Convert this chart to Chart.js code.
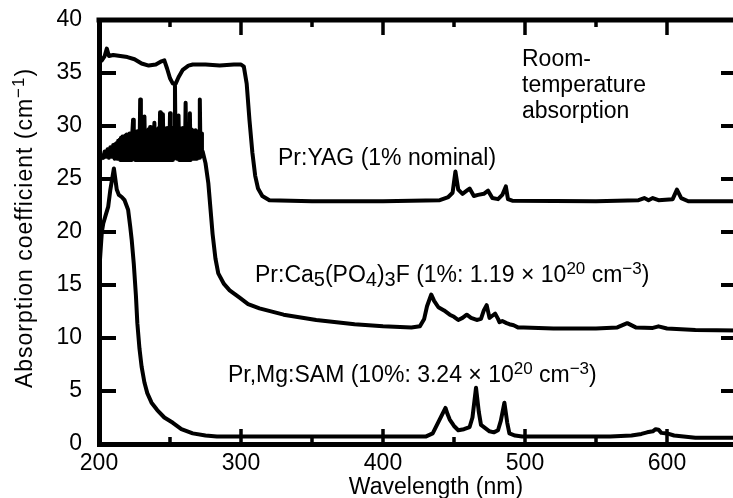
<!DOCTYPE html>
<html>
<head>
<meta charset="utf-8">
<script src="https://cdn.jsdelivr.net/npm/chart.js@4.4.1/dist/chart.umd.min.js"></script>
<style>
html, body { margin: 0; padding: 0; overflow: hidden; background: #fff; }
canvas { display: block; }
</style>
</head>
<body>
<canvas id="myChart" width="745" height="498"></canvas>
<script>
// Pr:YAG (1% nominal)
const yagNm = [200, 202, 204, 205.5, 207, 210, 215, 220, 225, 230, 235, 240, 244, 246, 248, 250, 252, 254, 256, 259,
  263, 266, 275, 285, 295, 300, 302, 304, 306, 308, 310, 312, 315, 320, 350, 400, 440, 446, 449, 451,
  453, 456, 459, 461, 464, 467, 471, 474, 477, 481, 484, 486.5, 488, 491, 550, 580, 584, 587, 590, 594,
  604, 607, 610, 615, 650];
const yagAbs = [36.0, 36.2, 36.6, 37.3, 36.6, 36.7, 36.6, 36.5, 36.3, 35.9, 35.7, 35.8, 36.1, 36.2, 35.4, 34.5, 34.0, 34.0, 34.6, 35.3,
  35.7, 35.8, 35.8, 35.7, 35.8, 35.8, 35.6, 34.0, 30.5, 27.5, 25.3, 24.1, 23.4, 23.0, 22.9, 22.9, 23.0, 23.3, 23.7, 25.7,
  24.0, 23.6, 23.9, 24.1, 23.4, 23.5, 23.6, 23.9, 23.2, 23.1, 23.5, 24.3, 23.1, 22.95, 22.9, 23.0, 23.2, 23.0, 23.2, 23.0,
  23.1, 24.0, 23.2, 22.9, 22.9];

// Pr:Ca5(PO4)3F
const capfNm = [200, 201, 202, 203, 204, 205, 206, 207, 208, 209, 210,
  211, 211.5, 212, 212.5, 213, 213.5, 214, 214.5, 215, 215.5,
  216, 216.5, 217, 217.5, 218, 218.5, 219, 219.5, 220, 220.5,
  221, 221.5, 222, 222.5, 223, 223.5, 224, 224.5, 225, 225.5,
  226, 226.5, 227, 227.5, 228, 228.5, 229, 229.5, 230, 230.5,
  231, 231.5, 232, 232.5, 233, 233.5, 234, 234.5, 235, 235.5,
  236, 236.5, 237, 237.5, 238, 238.5, 239, 239.5, 240, 240.5,
  241, 241.5, 242, 242.5, 243, 243.5, 244, 244.5, 245, 245.5,
  246, 246.5, 247, 247.5, 248, 248.5, 249, 249.5, 250, 250.5,
  251, 251.5, 252, 252.5, 253, 253.5, 254, 254.5, 255, 255.5,
  256, 256.5, 257, 257.5, 258, 258.5, 259, 259.5, 260, 260.5,
  261, 261.5, 262, 262.5, 263, 263.5, 264, 264.5, 265, 265.5,
  266, 266.5, 267, 267.5, 268, 268.5, 269, 269.5, 270, 270.5,
  271, 271.5, 272, 272.5, 273,
  275, 277, 280, 282, 284, 288, 292, 299, 305, 313, 330, 353, 380, 400, 420, 426, 429, 431, 434, 436,
  439, 443, 447, 450, 453, 456, 459, 462, 466, 469, 471, 473, 475, 477, 479, 481, 482, 484, 487, 489,
  492, 495, 499, 520, 550, 565, 572, 578, 590, 594, 600, 620, 650];
const capfAbs = [26.4, 26.9, 27.2, 27.0, 27.6, 27.1, 27.8, 27.0, 28.0, 27.1, 28.2,
  26.9, 28.3, 27.0, 28.4, 26.9, 28.6, 27.0, 28.7, 26.8, 28.9,
  26.9, 29.0, 26.8, 28.9, 26.9, 29.1, 26.8, 29.2, 26.9, 29.0,
  26.8, 29.3, 26.9, 29.2, 26.8, 29.4, 30.6, 26.9, 29.3, 26.8,
  29.4, 26.9, 29.5, 26.8, 29.4, 26.9, 32.5, 26.8, 29.5, 26.9,
  29.6, 26.8, 30.9, 26.9, 29.5, 26.8, 29.6, 26.9, 29.7, 26.8,
  29.9, 26.9, 29.6, 26.8, 29.7, 26.9, 30.3, 26.8, 29.7, 26.9,
  29.6, 26.8, 29.8, 26.9, 31.3, 26.8, 29.7, 26.9, 31.1, 26.8,
  29.8, 26.9, 29.7, 26.8, 29.8, 26.9, 29.6, 26.8, 31.2, 26.9,
  29.7, 26.8, 29.8, 26.9, 29.7, 33.8, 27.0, 29.8, 26.9, 29.7,
  31.0, 26.8, 29.8, 26.9, 29.7, 26.8, 29.8, 26.9, 29.6, 26.8,
  32.2, 26.9, 29.7, 26.8, 29.6, 26.9, 31.2, 26.8, 29.7, 27.0,
  29.6, 26.9, 29.5, 27.0, 29.6, 26.9, 29.5, 27.0, 29.5, 27.0,
  32.5, 27.1, 29.3, 27.3, 27.6,
  26.5, 24.6, 19.8, 17.5, 16.1, 15.1, 14.5, 13.8, 13.2, 12.8, 12.2, 11.7, 11.3, 11.1, 11.0, 11.1, 11.8, 13.0, 14.1, 13.5,
  12.9, 12.6, 12.2, 12.0, 11.7, 11.9, 12.2, 11.9, 11.7, 11.8, 12.6, 13.1, 11.9, 12.1, 12.3, 11.8, 11.5, 11.6, 11.4, 11.3,
  11.2, 11.0, 11.0, 10.9, 10.9, 11.0, 11.4, 11.0, 10.95, 11.1, 10.9, 10.75, 10.7];

// Pr,Mg:SAM (10%)
const samNm = [200, 201, 202, 203, 204.5, 206.5, 208, 210.5, 212.5, 214, 216, 218, 220.5, 222, 223, 224.5, 226, 227, 228.5, 230,
  232, 234, 237, 241, 246, 252, 258, 266, 275, 283, 350, 430, 435, 438, 441, 444, 445.5, 447, 450, 453,
  457, 461, 463, 465.5, 467.5, 469, 472, 475, 478, 481, 483, 485.5, 487.5, 489, 493, 498, 560, 575, 582, 586,
  590, 592, 594, 596, 600, 605, 620, 650];
const samAbs = [16.0, 18.0, 20.0, 20.8, 21.5, 22.4, 24.0, 26.0, 24.0, 23.5, 23.3, 23.0, 22.1, 20.5, 19.3, 17.0, 14.0, 11.4, 9.0, 7.3,
  5.8, 4.8, 3.9, 3.2, 2.5, 2.0, 1.4, 1.0, 0.8, 0.7, 0.7, 0.7, 1.0, 1.8, 2.6, 3.4, 2.8, 2.3, 1.7, 1.3,
  1.4, 1.6, 2.5, 5.3, 3.0, 1.8, 1.5, 1.2, 1.1, 1.3, 2.2, 3.9, 2.0, 1.0, 0.8, 0.7, 0.7, 0.8, 0.95, 1.1,
  1.2, 1.4, 1.35, 1.05, 1.0, 0.8, 0.6, 0.6];

// text labels: [text, 0 normal / -1 subscript / 1 superscript]
const yagLabel = [['Pr:YAG (1% nominal)', 0]];
const capfLabel = [['Pr:Ca', 0], ['5', -1], ['(PO', 0], ['4', -1], [')', 0], ['3', -1], ['F (1%: 1.19 \u00d7 10', 0], ['20', 1], [' cm', 0], ['\u22123', 1], [')', 0]];
const samLabel = [['Pr,Mg:SAM (10%: 3.24 \u00d7 10', 0], ['20', 1], [' cm', 0], ['\u22123', 1], [')', 0]];
const roomLines = ['Room-', 'temperature', 'absorption'];
const xTitle = [['Wavelength (nm)', 0]];
const yTitle = [['Absorption coefficient (cm', 0], ['\u22121', 1], [')', 0]];

const FONT = "'Liberation Sans', Arial, Helvetica, sans-serif";
Chart.defaults.font.family = FONT;
Chart.defaults.color = '#000';

function runFont(kind) {
  if (kind < 0) return '20px ' + FONT;
  if (kind > 0) return '17px ' + FONT;
  return '23px ' + FONT;
}
function runsWidth(ctx, runs) {
  let w = 0;
  runs.forEach(r => { ctx.font = runFont(r[1]); w += ctx.measureText(r[0]).width; });
  return w;
}
function drawRuns(ctx, runs, x, y) {
  runs.forEach(r => {
    ctx.font = runFont(r[1]);
    const dy = r[1] < 0 ? 4 : (r[1] > 0 ? -8 : 0);
    ctx.fillText(r[0], x, y + dy);
    x += ctx.measureText(r[0]).width;
  });
}

// inward ticks, top/right frame and the labels
const inkPlugin = {
  id: 'ink',
  afterDraw(chart) {
    const { ctx, chartArea: a, scales: { x, y } } = chart;
    ctx.save();
    ctx.strokeStyle = '#000';
    ctx.lineWidth = 5;
    ctx.beginPath();
    ctx.moveTo(a.left - 2.5, a.top);
    ctx.lineTo(a.right, a.top);
    ctx.lineTo(a.right, a.bottom);
    ctx.stroke();

    ctx.lineWidth = 4;
    ctx.beginPath();
    for (let v = 5; v < 40; v += 5) {
      const py = y.getPixelForValue(v);
      ctx.moveTo(a.left, py); ctx.lineTo(a.left + 17, py);
      ctx.moveTo(a.right, py); ctx.lineTo(a.right - 17, py);
    }
    ctx.stroke();
    ctx.lineWidth = 3.5;
    ctx.beginPath();
    for (let v = 250; v < 650; v += 50) {
      const px = x.getPixelForValue(v);
      const len = v % 100 === 0 ? 15 : 7;
      ctx.moveTo(px, a.bottom); ctx.lineTo(px, a.bottom - len);
      ctx.moveTo(px, a.top); ctx.lineTo(px, a.top + len);
    }
    ctx.stroke();

    ctx.fillStyle = '#000';
    ctx.textAlign = 'left';
    ctx.textBaseline = 'alphabetic';
    drawRuns(ctx, yagLabel, 278, 165);
    drawRuns(ctx, capfLabel, 255, 282);
    drawRuns(ctx, samLabel, 228, 382);
    roomLines.forEach((t, i) => drawRuns(ctx, [[t, 0]], 522, 66 + i * 26));
    drawRuns(ctx, xTitle, 436 - runsWidth(ctx, xTitle) / 2, 494);

    ctx.translate(31.5, 228);
    ctx.rotate(-Math.PI / 2);
    ctx.letterSpacing = '1px';
    drawRuns(ctx, yTitle, -(runsWidth(ctx, yTitle)) / 2, 0);
    ctx.restore();
  }
};

function series(nm, abs) {
  return {
    data: nm.map((v, i) => ({ x: v, y: abs[i] })),
    borderColor: '#000',
    borderWidth: 4,
    pointRadius: 0,
    fill: false,
    tension: 0,
    borderJoinStyle: 'round',
    borderCapStyle: 'round'
  };
}

const ctx = document.getElementById('myChart').getContext('2d');
const myChart = new Chart(ctx, {
  type: 'line',
  data: {
    datasets: [series(yagNm, yagAbs), series(capfNm, capfAbs), series(samNm, samAbs)]
  },
  options: {
    responsive: false,
    animation: false,
    devicePixelRatio: 1,
    layout: { padding: { left: 0, top: 20, right: 7, bottom: 0 } },
    plugins: { legend: { display: false }, tooltip: { enabled: false } },
    scales: {
      x: {
        type: 'linear',
        min: 200,
        max: 650,
        afterFit: s => { s.height = 54; },
        grid: { drawOnChartArea: false, drawTicks: false },
        border: { color: '#000', width: 5 },
        ticks: { stepSize: 100, includeBounds: false, padding: 6, maxRotation: 0, autoSkip: false, font: { size: 23 } }
      },
      y: {
        min: 0,
        max: 40,
        afterFit: s => { s.width = 99; s.paddingTop = 0; s.paddingBottom = 0; },
        grid: { drawOnChartArea: false, drawTicks: false },
        border: { color: '#000', width: 5 },
        ticks: { stepSize: 5, padding: 17, font: { size: 23 } }
      }
    }
  },
  plugins: [inkPlugin]
});
</script>
</body>
</html>
